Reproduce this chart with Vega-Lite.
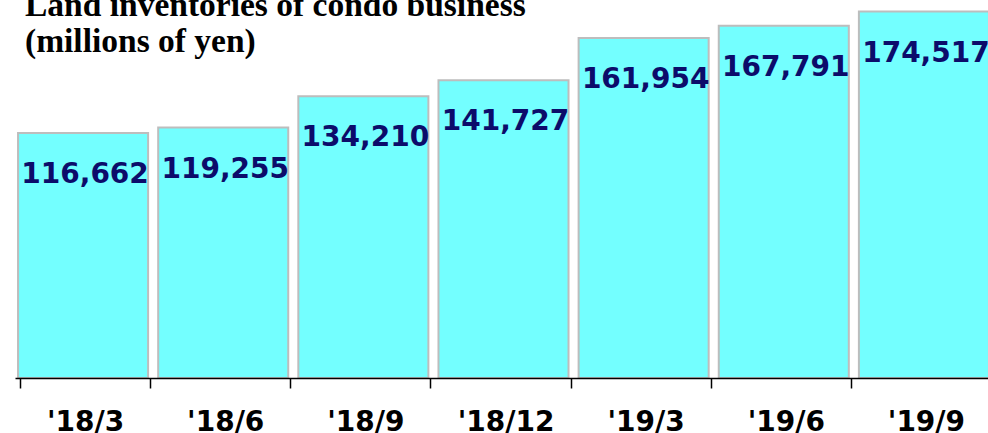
{
  "$schema": "https://vega.github.io/schema/vega-lite/v6.json",
  "autosize": "none",
  "width": 973,
  "height": 378,
  "padding": {"left": 15, "top": 0, "right": 0, "bottom": 55},
  "background": "white",
  "config": {"view": {"stroke": null}},
  "title": {
    "text": ["Land inventories of condo business", "(millions of  yen)"],
    "anchor": "start",
    "frame": "group",
    "orient": "top",
    "font": "Liberation Serif",
    "fontSize": 33.5,
    "fontWeight": "bold",
    "color": "#000000",
    "lineHeight": 36,
    "baseline": "alphabetic",
    "offset": 0,
    "dx": 10,
    "dy": 85
  },
  "data": {
    "values": [
      {"period": "'18/3", "value": 116662},
      {"period": "'18/6", "value": 119255},
      {"period": "'18/9", "value": 134210},
      {"period": "'18/12", "value": 141727},
      {"period": "'19/3", "value": 161954},
      {"period": "'19/6", "value": 167791},
      {"period": "'19/9", "value": 174517}
    ]
  },
  "encoding": {
    "x": {
      "field": "period",
      "type": "ordinal",
      "sort": null,
      "scale": {"range": [0, 981], "paddingInner": 0.072, "paddingOuter": 0.036},
      "axis": {
        "title": null,
        "zindex": 2,
        "tickBand": "extent",
        "domainColor": "#000000",
        "domainWidth": 1.5,
        "tickColor": "#000000",
        "tickWidth": 1.5,
        "tickSize": 10,
        "labelAngle": 0,
        "labelFont": "DejaVu Sans",
        "labelFontSize": 28,
        "labelFontWeight": "bold",
        "labelColor": "#000000",
        "labelBaseline": "alphabetic",
        "labelPadding": 42
      }
    },
    "y": {
      "field": "value",
      "type": "quantitative",
      "scale": {"domain": [0, 180000], "nice": false},
      "axis": null
    }
  },
  "layer": [
    {
      "mark": {"type": "bar", "fill": "#73ffff", "stroke": "#bdbdbd", "strokeWidth": 2, "xOffset": -2}
    },
    {
      "mark": {"type": "text", "font": "DejaVu Sans", "fontSize": 28, "fontWeight": "bold", "color": "#0c0c6a", "baseline": "alphabetic", "dy": 50},
      "encoding": {"text": {"field": "value", "type": "quantitative", "format": ","}}
    }
  ]
}
